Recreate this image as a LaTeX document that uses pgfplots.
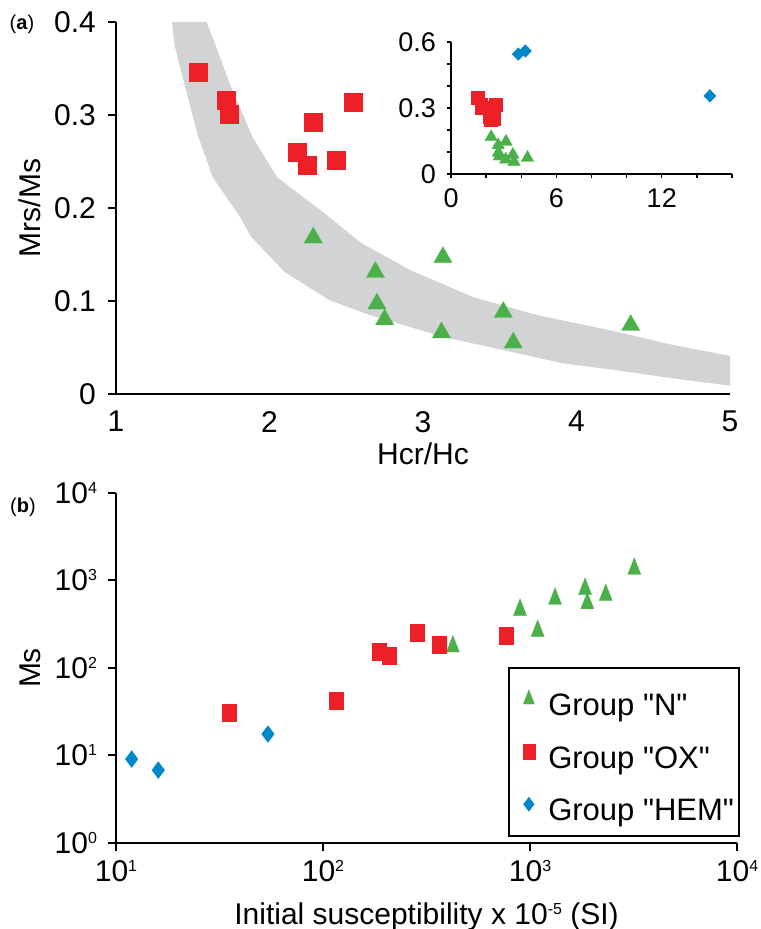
\documentclass[border=0pt]{standalone}
\usepackage{fontspec}
\setmainfont{Liberation Sans}[Ligatures=TeXOff]
\usepackage{pgfplots}
\pgfplotsset{compat=1.18}
\definecolor{gN}{RGB}{75,176,74}
\definecolor{rOX}{RGB}{237,32,39}
\definecolor{bH}{RGB}{0,134,203}
\definecolor{bandc}{RGB}{209,211,212}
\newcommand{\sups}[1]{\raisebox{5pt}{\fontsize{8}{8}\selectfont #1}}
\begin{document}
\begin{tikzpicture}
\path[use as bounding box] (0,0) rectangle (380pt,464.5pt);
\pgfplotsset{
 myax/.style={scale only axis, axis lines=left, axis line style={-, line width=1pt},
   tick style={line width=1pt, black}, tick align=outside, major tick length=4pt,
   ticklabel style={font=\fontsize{15}{18}\selectfont},
   label style={font=\fontsize{15}{18}\selectfont}, clip=false},
}
% ---------- panel (a) main
\begin{axis}[myax, at={(58pt,267.5pt)}, anchor=south west, width=307pt, height=186pt,
  xmin=1, xmax=5, ymin=0, ymax=0.4,
  xtick={1,2,3,4,5}, xticklabels={1,2,3,4,5}, xtick style={draw=none},
  xticklabel style={yshift=-1pt},
  ytick={0,0.1,0.2,0.3,0.4}, yticklabels={0,0.1,0.2,0.3,0.4},
  yticklabel style={xshift=-2.5pt},
  xlabel={Hcr/Hc}, ylabel={Mrs/Ms},
  xlabel style={at={(axis description cs:0.5,-0.162)}, anchor=center},
  ylabel style={at={(axis description cs:-0.14,0.5)}, anchor=center}]
\addplot[fill=bandc, draw=none, forget plot] coordinates {
 (1.59,0.400) (1.66,0.370) (1.74,0.334) (1.89,0.276) (2.05,0.233) (2.24,0.209)
 (2.33,0.198) (2.60,0.162) (2.92,0.133) (3.33,0.104) (3.74,0.085) (4.26,0.067)
 (4.62,0.053) (5.00,0.041)
 (5.00,0.009) (4.62,0.017) (4.24,0.026) (3.91,0.033) (3.53,0.047) (3.14,0.061)
 (2.65,0.085) (2.39,0.101) (2.10,0.131) (1.88,0.169) (1.81,0.190) (1.63,0.233)
 (1.53,0.280) (1.44,0.337) (1.38,0.376) (1.365,0.400)} -- cycle;
\addplot[only marks, mark=square*, mark size=4.5pt, mark options={fill=rOX, draw=rOX, line width=0.1pt}] coordinates {
 (1.534,0.346) (1.717,0.316) (1.736,0.301) (2.18,0.260) (2.244,0.246)
 (2.283,0.292) (2.433,0.252) (2.544,0.314)};
\addplot[only marks, mark=triangle*, mark size=5.3pt, mark options={fill=gN, draw=gN, line width=0.1pt}] coordinates {
 (2.285,0.168) (2.69,0.131) (2.70,0.097) (2.75,0.080) (3.13,0.147)
 (3.12,0.066) (3.523,0.088) (3.588,0.055) (4.353,0.074)};
\end{axis}
% ---------- inset
\begin{axis}[myax, at={(225.5pt,377.5pt)}, anchor=south west, width=140.5pt, height=66pt,
  xmin=0, xmax=16, ymin=0, ymax=0.6,
  ticklabel style={font=\fontsize{13.5}{15}\selectfont},
  tick style={line width=0.7pt, black}, major tick length=2pt,
  xtick={0,2,4,6,8,10,12,14,16}, xticklabels={0,,,6,,,12,,},
  ytick={0,0.1,0.2,0.3,0.4,0.5,0.6}, yticklabels={0,,,0.3,,,0.6},
  xticklabel style={yshift=-2pt}, yticklabel style={xshift=-2pt}]
\addplot[only marks, mark=square*, mark size=3.2pt, mark options={fill=rOX, draw=rOX, line width=0.1pt}] coordinates {
 (1.534,0.346) (1.717,0.316) (1.736,0.301) (2.18,0.260) (2.244,0.246)
 (2.283,0.292) (2.433,0.252) (2.544,0.314)};
\addplot[only marks, mark=triangle*, mark size=3.7pt, mark options={fill=gN, draw=gN, line width=0.1pt}] coordinates {
 (2.285,0.168) (2.69,0.131) (2.70,0.097) (2.75,0.080) (3.13,0.147)
 (3.12,0.066) (3.523,0.088) (3.588,0.055) (4.353,0.074)};
\addplot[only marks, mark=diamond*, mark size=3.2pt, mark options={fill=bH, draw=bH, line width=0.1pt, xscale=1.3}] coordinates {
 (3.83,0.545) (4.23,0.559) (14.74,0.355)};
\end{axis}
% ---------- panel (b)
\begin{axis}[myax, at={(58pt,43pt)}, anchor=south west, width=310.5pt, height=175pt,
  xmode=log, ymode=log, xmin=10, xmax=10000, ymin=1, ymax=10000,
  xminorticks=false, yminorticks=false,
  xtick={10,100,1000,10000}, xticklabels={10\sups{1},10\sups{2},10\sups{3},10\sups{4}},
  ytick={1,10,100,1000,10000}, yticklabels={10\sups{0},10\sups{1},10\sups{2},10\sups{3},10\sups{4}},
  yticklabel style={xshift=-2pt}, xticklabel style={yshift=-1pt},
  xlabel={Initial susceptibility x 10\sups{-5} (SI)}, ylabel={Ms},
  xlabel style={at={(axis description cs:0.5,-0.212)}, anchor=center},
  ylabel style={at={(axis description cs:-0.138,0.5)}, anchor=center},
  legend style={at={(0.631,0.503)}, anchor=north west, draw=black, line width=1pt,
    font=\fontsize{15.5}{18}\selectfont, inner xsep=2.5pt, inner ysep=4pt,
    row sep=2.95pt, column sep=6.75pt,
    nodes={inner sep=0pt, text height=20pt, text depth=3.3pt}},
  legend cell align=left,
  legend image code/.code={\path (-7pt,0pt); \draw[#1, every mark/.append style={scale=0.85}] plot coordinates {(0pt,0pt)};}]
\addplot[only marks, mark=triangle*, mark size=5.6pt, mark options={fill=gN, draw=gN, line width=0.1pt, xscale=0.68}] coordinates {
 (424,176) (895,461) (1089,265) (1321,617) (1845,800) (1892,550) (2322,684) (3190,1358)};
\addlegendentry{Group "N"}
\addplot[only marks, mark=square*, mark size=4.25pt, mark options={fill=rOX, draw=rOX, line width=0.1pt, xscale=0.82}] coordinates {
 (35.2,30.6) (115.6,42) (186.6,152) (208,137) (284,251) (363,183) (766,232)};
\addlegendentry{Group "OX"}
\addplot[only marks, mark=diamond*, mark size=4.25pt, mark options={fill=bH, draw=bH, line width=0.1pt}] coordinates {
 (11.9,9.1) (16,6.8) (54.2,17.6)};
\addlegendentry{Group "HEM"}
\end{axis}
\node[font=\fontsize{10}{12}\selectfont] at (11pt,452.5pt) {(\textbf{a})};
\node[font=\fontsize{10}{12}\selectfont] at (11.5pt,211pt) {(\textbf{b})};
\end{tikzpicture}
\end{document}
